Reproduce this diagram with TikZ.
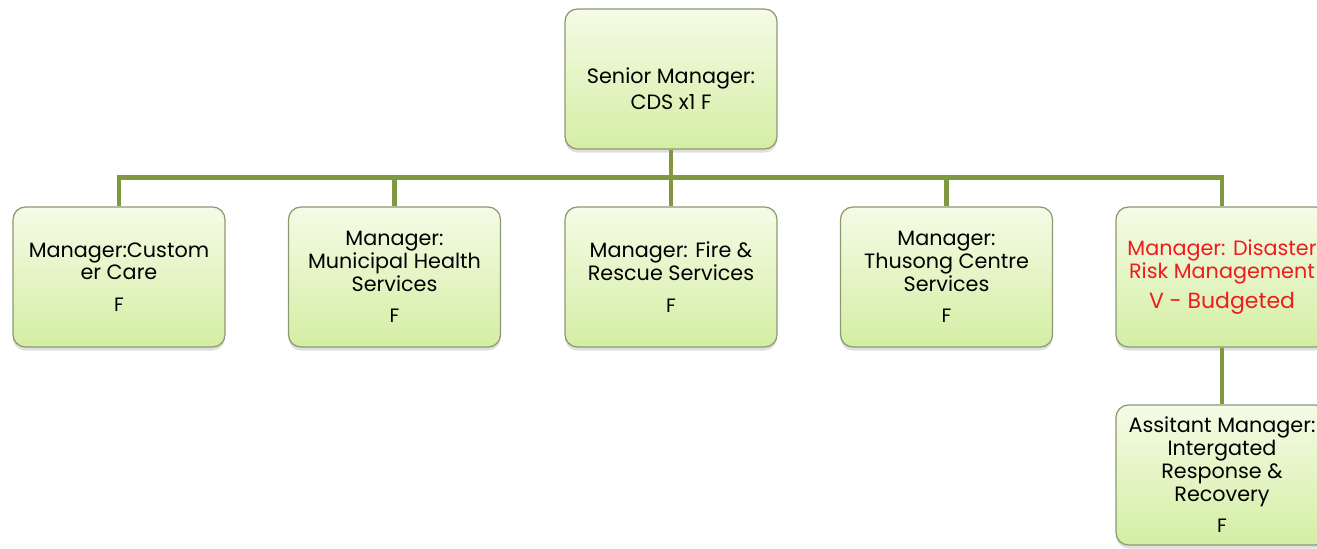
\documentclass[tikz,border=0pt]{standalone}
\usepackage{fontspec}
\setmainfont{Poppins}
\usetikzlibrary{shadows}
\definecolor{linkgreen}{RGB}{128,153,64}
\definecolor{boxtop}{RGB}{245,251,230}
\definecolor{boxbottom}{RGB}{212,238,164}
\definecolor{boxline}{RGB}{140,152,112}
\definecolor{vacant}{RGB}{238,28,28}
\def\boxw{4.24cm}
\def\boxh{2.8cm}
\def\full{{\fontsize{11}{13}\selectfont F}}

\begin{document}
\begin{tikzpicture}[x=0.02cm,y=-0.02cm]
		\tikzstyle{post}=[draw=boxline, line width=0.7pt, rounded corners=7pt, top color=boxtop, bottom color=boxbottom, minimum width=\boxw, minimum height=\boxh, align=center, inner sep=2pt, font=\fontsize{11.8}{13}\selectfont, drop shadow={opacity=0.25, shadow xshift=0pt, shadow yshift=-2pt}]
		\tikzstyle{link}=[draw=linkgreen, line width=2.8pt]
		
		% Page frame, the last box runs off the right edge
		\useasboundingbox (0,0) rectangle (1317,548);
		\clip (0,0) rectangle (1317,548);
		
		% Senior manager on top
		\node[post] (S) at (671,79) {\rule{0pt}{20pt}Senior Manager:\\[2pt]CDS x1 F};
		
		% Draw the manager row
		\foreach \i/\x/\txt in {1/119/{Manager:Custom\\er Care},
			2/394.5/{Manager:\\Municipal Health\\Services},
			3/671/{Manager: Fire \&\\Rescue Services},
			4/946.5/{Manager:\\Thusong Centre\\Services}}
		\node[post] (M-\i) at (\x,277) {\txt\\[5pt]\full};
		
		% Vacant post
		\node[post, text=vacant] (M-5) at (1222,277) {Manager: Disaster\\Risk Management\\[4pt]{\fontsize{12.5}{13}\selectfont V - Budgeted}};
		
		% Assistant under disaster risk
		\node[post] (A-1) at (1222,475) {Assitant Manager:\\Intergated\\Response \&\\Recovery\\[5pt]\full};
		
		% Connect the senior manager to every manager
		\foreach \i in {1,...,5}
		\draw[link] (S.south) -- ++(0,28) -| (M-\i.north);
		\draw[link] (M-5) -- (A-1);
	\end{tikzpicture}
\end{document}
